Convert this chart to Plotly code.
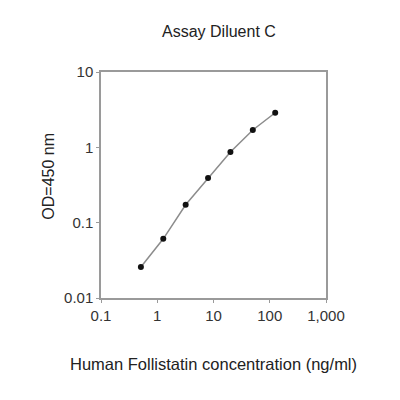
import plotly.graph_objects as go

conc = [0.512, 1.28, 3.2, 8, 20, 50, 125]
od = [0.0258, 0.061, 0.173, 0.391, 0.867, 1.70, 2.88]
x_ticks = [0.1, 1, 10, 100, 1000]
x_labels = ["0.1", "1", "10", "100", "1,000"]
y_ticks = [0.01, 0.1, 1, 10]
y_labels = ["0.01", "0.1", "1", "10"]

FONT = "Liberation Sans, Arial, sans-serif"

fig = go.Figure()
fig.add_trace(go.Scatter(
    x=conc, y=od, mode="lines+markers",
    line=dict(color="#8c8c8c", width=1.5),
    marker=dict(color="#111111", size=6),
    showlegend=False,
))

axis_common = dict(
    type="log", showgrid=False, zeroline=False, automargin=False,
    showline=True, linecolor="#9a9a9a", linewidth=1.5, mirror=True,
    ticks="outside", ticklen=3, tickcolor="#9a9a9a",
    tickfont=dict(family=FONT, size=15, color="#333333"),
)

fig.update_layout(
    width=400, height=400,
    margin=dict(l=93, r=82, t=64, b=110, autoexpand=False),
    paper_bgcolor="white", plot_bgcolor="white",
    font=dict(family=FONT, color="#222222"),
    xaxis=dict(**axis_common, range=[-1, 3], tickvals=x_ticks, ticktext=x_labels),
    yaxis=dict(**axis_common, range=[-2, 1], tickvals=y_ticks, ticktext=y_labels),
    annotations=[
        dict(text="Assay Diluent C", xref="paper", yref="paper", x=0.524, y=1.177,
             xanchor="center", yanchor="middle", showarrow=False,
             font=dict(family=FONT, size=16, color="#222222")),
        dict(text="Human Follistatin concentration (ng/ml)", xref="paper", yref="paper",
             x=0.499, y=-0.292, xanchor="center", yanchor="middle", showarrow=False,
             font=dict(family=FONT, size=16.5, color="#222222")),
        dict(text="OD=450 nm", xref="paper", yref="paper", x=-0.231, y=0.537,
             xanchor="center", yanchor="middle", textangle=-90, showarrow=False,
             font=dict(family=FONT, size=16, color="#222222")),
    ],
)

fig.write_html("out.html")
